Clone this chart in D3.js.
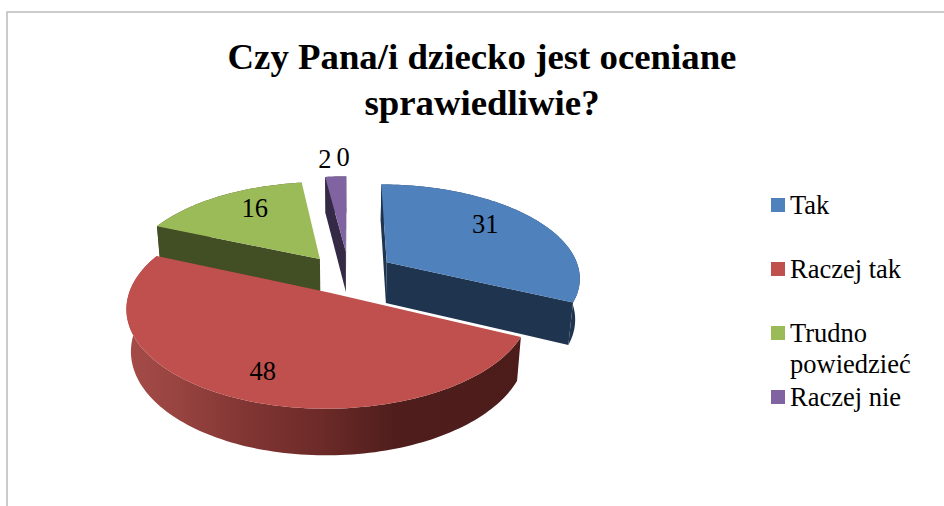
<!DOCTYPE html>
<html lang="pl">
<head>
<meta charset="utf-8">
<script src="https://cdn.jsdelivr.net/npm/d3@7"></script>
<style>
html,body{margin:0;padding:0;background:#fff;overflow:hidden}
svg{display:block}
text{font-family:"Liberation Serif",serif;fill:#000}
</style>
</head>
<body>
<div id="chart"></div>
<script>
const titleLines = ["Czy Pana/i dziecko jest oceniane", "sprawiedliwie?"];
const categories = ["Tak", "Raczej tak", "Trudno powiedzieć", "Raczej nie", "Zdecydowanie nie"];
const values = [31, 48, 16, 2, 0];
const legendLines = [["Tak"], ["Raczej tak"], ["Trudno", "powiedzieć"], ["Raczej nie"]];
const topColors = ["#4F81BD", "#C0504D", "#9BBB59", "#8064A2", "#4BACC6"];
const wallColors = ["#1F344F", "#4C1D1B", "#424E24", "#352A46", "#1F4752"];
const explosions = [0.26, 0.2, 0.22, 0.26, 0.2];

const W = 944, H = 506;
const svg = d3.select("#chart").append("svg").attr("width", W).attr("height", H);

svg.append("path").attr("d", `M7,${H}V12H${W}`).attr("fill", "none")
  .attr("stroke", "#bcbcbc").attr("stroke-width", 1.5);

svg.append("g").selectAll("text").data(titleLines).join("text")
  .attr("x", 482).attr("y", (d, i) => 69 + i * 46)
  .attr("text-anchor", "middle").attr("font-weight", "bold").attr("font-size", 36.8)
  .text(d => d);

// perspective projection of the pie plane: u right, v toward viewer, h down
const view = {cx: 345, cy: 275, rx: 194, ry: 93, depth: 42, p: 0.15, q: 0.02};
function project(u, v, h) {
  const w = 1 - view.p * v + view.q * h;
  return [view.cx + view.rx * u / w, view.cy + (view.ry * v + view.depth * h) / w];
}

const pie = d3.pie().sort(null).value(d => d).startAngle(0).endAngle(2 * Math.PI);
const arcs = pie(values).map((a, i) => ({...a, i}));
const dirOf = t => [Math.sin(t), -Math.cos(t)];
const line = d3.line();

function slicePoint(a, t, r, h) {
  const m = dirOf((a.startAngle + a.endAngle) / 2), d = dirOf(t), e = explosions[a.i];
  const pt = project(m[0] * e + d[0] * r, m[1] * e + d[1] * r, h);
  if (a.i === 3) pt[0] += 4;
  return pt;
}
function rim(a, h) {
  const t0 = a.startAngle, t1 = a.endAngle;
  const n = Math.max(2, Math.ceil((t1 - t0) * 40));
  return d3.range(n + 1).map(k => slicePoint(a, t0 + (t1 - t0) * k / n, 1, h));
}

const defs = svg.append("defs");
const gradRed = defs.append("linearGradient").attr("id", "redWall")
  .attr("gradientUnits", "userSpaceOnUse")
  .attr("x1", 124).attr("x2", 521).attr("y1", 0).attr("y2", 0);
[[0, "#A64C49"], [0.14, "#97433F"], [0.3, "#823634"], [0.5, "#6C2A28"], [0.68, "#4F1E1C"], [1, "#4C1C1B"]]
  .forEach(s => gradRed.append("stop").attr("offset", s[0]).attr("stop-color", s[1]));

const order = [3, 2, 0, 1];
const pieG = svg.append("g");
order.forEach(i => {
  const a = arcs[i];
  if (a.value <= 0) return;
  const g = pieG.append("g");
  const wall = i === 1 ? "url(#redWall)" : wallColors[i];
  const apex0 = slicePoint(a, a.startAngle, 0, 0), apex1 = slicePoint(a, a.startAngle, 0, 1);
  g.append("path").attr("d", line(rim(a, 0).concat(rim(a, 1).reverse())) + "Z").attr("fill", wall);
  const s = slicePoint(a, a.startAngle, 1, 0), e = slicePoint(a, a.endAngle, 1, 0);
  if (s[0] - apex0[0] < 0) {
    const s1 = slicePoint(a, a.startAngle, 1, 1);
    g.append("path").attr("d", line([apex0, s, s1, apex1]) + "Z").attr("fill", wallColors[i]);
  }
  if (e[0] - apex0[0] > 0) {
    const e1 = slicePoint(a, a.endAngle, 1, 1);
    g.append("path").attr("d", line([apex0, e, e1, apex1]) + "Z").attr("fill", wallColors[i]);
  }
  g.append("path").attr("d", line([apex0].concat(rim(a, 0))) + "Z").attr("fill", topColors[i]);
});

// data labels: placed on the slice bisector, then nudged
const labelRadius = v => v >= 10 ? 0.66 : 1.2;
const labelNudge = [[0, -8], [-5, 13], [3, -8], [-9, -5], [-2, -10]];
svg.append("g").selectAll("text").data(arcs).join("text")
  .attr("text-anchor", "middle").attr("dominant-baseline", "central").attr("font-size", 26.5)
  .each(function (a) {
    const t = (a.startAngle + a.endAngle) / 2;
    const pt = slicePoint(a, t, labelRadius(a.value), 0);
    d3.select(this).attr("x", pt[0] + labelNudge[a.i][0]).attr("y", pt[1] + labelNudge[a.i][1]);
  })
  .text(a => a.value);

// legend
const legendY = d3.scalePoint().domain(d3.range(legendLines.length)).range([198, 390]);
const leg = svg.append("g").selectAll("g").data(legendLines).join("g")
  .attr("transform", (d, i) => `translate(771,${legendY(i)})`);
leg.append("rect").attr("width", 14).attr("height", 14).attr("fill", (d, i) => topColors[i]);
leg.selectAll("text").data(d => d).join("text")
  .attr("x", 19).attr("y", (d, i) => 16 + i * 31).attr("font-size", 26.5).text(d => d);
</script>
</body>
</html>
